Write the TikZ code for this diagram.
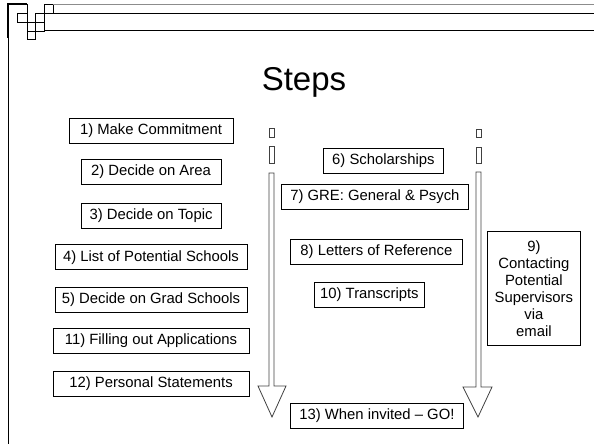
\documentclass[tikz,border=0pt]{standalone}
\usepackage{fontspec}
\setmainfont{Liberation Sans}
\usepackage{tikz}
\usetikzlibrary{positioning}

\tikzset{
	stepbox/.style={draw,line width=0.8pt,minimum width=#1,minimum height=25pt,inner xsep=3pt,inner ysep=2pt,font=\fontsize{14.85}{17}\selectfont},
	blockarrow/.style={line width=0.8pt,black!75}
}

\begin{document}
\begin{tikzpicture}[x=1pt,y=-1pt]
	\useasboundingbox (0,0) rectangle (594,444);
	
	% corner ornament and frame
	\draw[line width=2pt] (8,38) -- (8,4) -- (27,4);
	\draw[line width=0.8pt] (8,38) -- (8,444);
	\draw[line width=0.8pt] (27,4) -- (27,39);
	\draw[line width=0.8pt] (17,13) rectangle (27,22);
	\draw[line width=0.8pt] (35,13) rectangle (44,22);
	\draw[line width=0.8pt] (44,4) rectangle (53,13);
	\draw[line width=0.8pt] (27,22) rectangle (35,31);
	\draw[line width=0.8pt] (35,22) rectangle (44,31);
	\draw[line width=0.8pt] (27,31) rectangle (35,39);
	\draw[line width=0.8pt,black!45] (53,4.5) -- (594,4.5);
	\draw[line width=0.8pt] (53,13) -- (594,13);
	\draw[line width=0.8pt] (44,30) -- (594,30);
	
	% title
	\node[anchor=base,font=\fontsize{33}{36}\selectfont] (title) at (304,90) {Steps};
	
	% left column
	\node[stepbox=164pt,anchor=north] (s1) at (151,118) {1) Make Commitment};
	\node[stepbox=140pt] (s2) [below=15pt of s1] {2) Decide on Area};
	\node[stepbox=140pt] (s3) [below=18pt of s2] {3) Decide on Topic};
	\node[stepbox=192pt] (s4) [below=16pt of s3] {4) List of Potential Schools};
	\node[stepbox=192pt] (s5) [below=17pt of s4] {5) Decide on Grad Schools};
	\node[stepbox=196pt] (s11) [below=15pt of s5] {11) Filling out Applications};
	\node[stepbox=196pt] (s12) [below=17pt of s11] {12) Personal Statements};
	
	% middle column
	\node[stepbox=120pt,anchor=north west] (s6) at (323,148) {6) Scholarships};
	\node[stepbox=187pt,anchor=north west] (s7) at (281,184) {7) GRE: General \& Psych};
	\node[stepbox=172pt,anchor=north west] (s8) at (290,239) {8) Letters of Reference};
	\node[stepbox=110pt,anchor=north west] (s10) at (314,282) {10) Transcripts};
	\node[stepbox=173pt,anchor=north west] (s13) at (290,403) {13) When invited -- GO!};
	
	% right column
	\node[stepbox=93pt,anchor=north west,align=center,minimum height=114pt] (s9) at (487,231) {9)\\Contacting\\Potential\\Supervisors\\via\\email};
	
	% left block arrow
	\draw[blockarrow] (269,128) rectangle (274,137);
	\draw[blockarrow] (269,146) rectangle (274,163);
	\draw[blockarrow] (269,173) -- (269,386) -- (258,386) -- (272,417) -- (286,386) -- (274,386) -- (274,173) -- cycle;
	
	% right block arrow
	\draw[blockarrow] (476,129) rectangle (481,137);
	\draw[blockarrow] (476,147) rectangle (481,163);
	\draw[blockarrow] (476,172) -- (476,387) -- (463,387) -- (478,417) -- (492,387) -- (481,387) -- (481,172) -- cycle;
	
\end{tikzpicture}
\end{document}
